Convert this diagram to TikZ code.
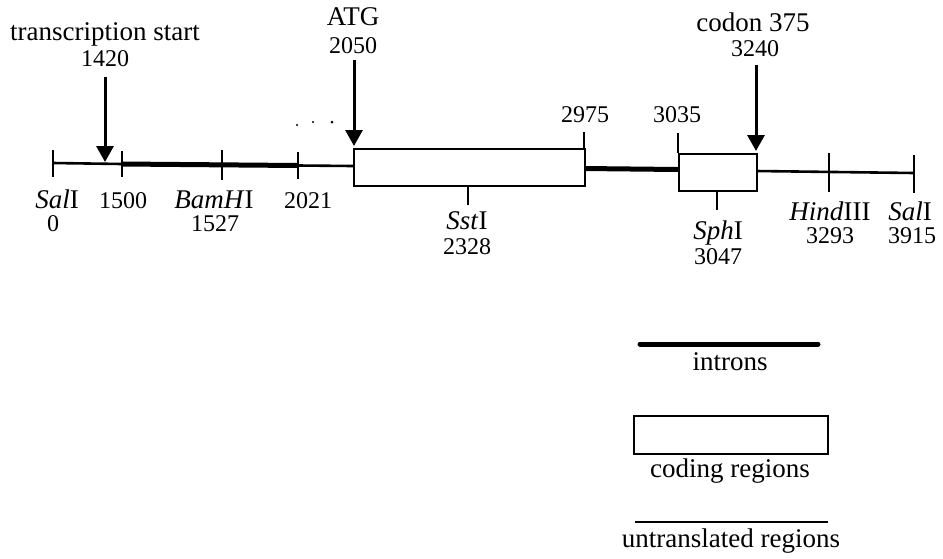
\documentclass[tikz,border=0pt]{standalone}
\usepackage{fontspec}
\setmainfont{Liberation Serif}
\usetikzlibrary{arrows.meta}
\begin{document}
\begin{tikzpicture}[x=1pt,y=-1pt,
  wd/.style={inner sep=0pt,anchor=base,font=\fontsize{27}{29}\selectfont},
  nm/.style={inner sep=0pt,anchor=base,font=\fontsize{24}{26}\selectfont},
  thinline/.style={line width=2.6pt},
  thickline/.style={line width=5pt},
  tickmark/.style={line width=1.6pt},
  cbox/.style={draw,line width=2pt,fill=white},
  pointer/.style={line width=3pt,-{Triangle[length=16pt,width=17pt]}}]
\useasboundingbox (0,0) rectangle (943,558);
% --- coordinates on the map
\coordinate (s0) at (53,163);
\coordinate (s1500) at (122,164);
\coordinate (s2021) at (298,165.5);
\coordinate (atg) at (353,166);
\coordinate (e2975) at (584,168.5);
\coordinate (e3035) at (678,169.5);
\coordinate (c375) at (756,171);
\coordinate (sEnd) at (914,173);
% --- main line
\draw[thinline] (s0) -- (s1500);
\draw[thickline] (s1500) -- (s2021);
\draw[thinline] (s2021) -- (atg);
\draw[thickline] (e2975) -- (e3035);
\draw[thinline] (c375) -- (sEnd);
% --- coding boxes
\node[cbox,minimum width=231pt,minimum height=37pt,inner sep=0pt,anchor=north west] (box1) at (353,148) {};
\node[cbox,minimum width=78pt,minimum height=37pt,inner sep=0pt,anchor=north west] (box2) at (678,153) {};
% --- ticks
\draw[tickmark] (53,150) -- (53,177);
\draw[tickmark] (122,151) -- (122,177);
\draw[tickmark] (222,150) -- (222,180);
\draw[tickmark] (298,152) -- (298,179);
\draw[tickmark] (468,185) -- (468,205);
\draw[tickmark] (584,132) -- (584,148);
\draw[tickmark] (678,133) -- (678,153);
\draw[tickmark] (717,190) -- (717,210);
\draw[tickmark] (829,153) -- (829,192);
\draw[tickmark] (914,155) -- (914,193);
% --- stray dots
\fill (297,125) circle (1.2pt);
\fill (313,122) circle (1.2pt);
\fill (332,122) circle (1.5pt);
% --- top labels and arrows
\node[wd] (ts) at (105,40) {transcription start};
\node[nm] (ts1) at (105,66) {1420};
\coordinate (tsTip) at (105,162);
\draw[pointer] (105,77) -- (tsTip);
\node[wd] (atgl) at (353,25) {ATG};
\node[nm] (atgn) at (353,53) {2050};
\coordinate (atgTip) at (354,146);
\draw[pointer] (354,60) -- (atgTip);
\node[wd] (cod) at (753,31) {codon 375};
\node[nm] (codn) at (755,56) {3240};
\coordinate (codTip) at (756,151);
\draw[pointer] (756,65) -- (codTip);
\node[nm] (n2975) at (585,122) {2975};
\node[nm] (n3035) at (677,122) {3035};
% --- bottom labels
\node[wd] (sal1) at (57,208) {\textit{Sal}I};
\node[nm] (sal1n) at (53,231) {0};
\node[nm] (n1500) at (123,208) {1500};
\node[wd] (bam) at (214,208) {\textit{BamH}I};
\node[nm] (bamn) at (215,231) {1527};
\node[nm] (n2021) at (308,208) {2021};
\node[wd] (sst) at (467,229) {\textit{Sst}I};
\node[nm] (sstn) at (467,254) {2328};
\node[wd] (sph) at (718,239) {\textit{Sph}I};
\node[nm] (sphn) at (718,264) {3047};
\node[wd] (hind) at (830,220) {\textit{Hind}III};
\node[nm] (hindn) at (830,243) {3293};
\node[wd] (sal2) at (910,220) {\textit{Sal}I};
\node[nm] (sal2n) at (912,243) {3915};
% --- legend
\coordinate (li1) at (640,344);
\coordinate (li2) at (818,344);
\draw[thickline,line cap=round] (li1) -- (li2);
\node[wd] (lintr) at (730,370) {introns};
\node[cbox,minimum width=194pt,minimum height=38pt,inner sep=0pt,anchor=north west] (lbox) at (633,415) {};
\node[wd] (lcod) at (730,477) {coding regions};
\coordinate (lu1) at (635,522);
\coordinate (lu2) at (828,522);
\draw[thinline] (lu1) -- (lu2);
\node[wd] (lunt) at (731,547) {untranslated regions};
\end{tikzpicture}
\end{document}
